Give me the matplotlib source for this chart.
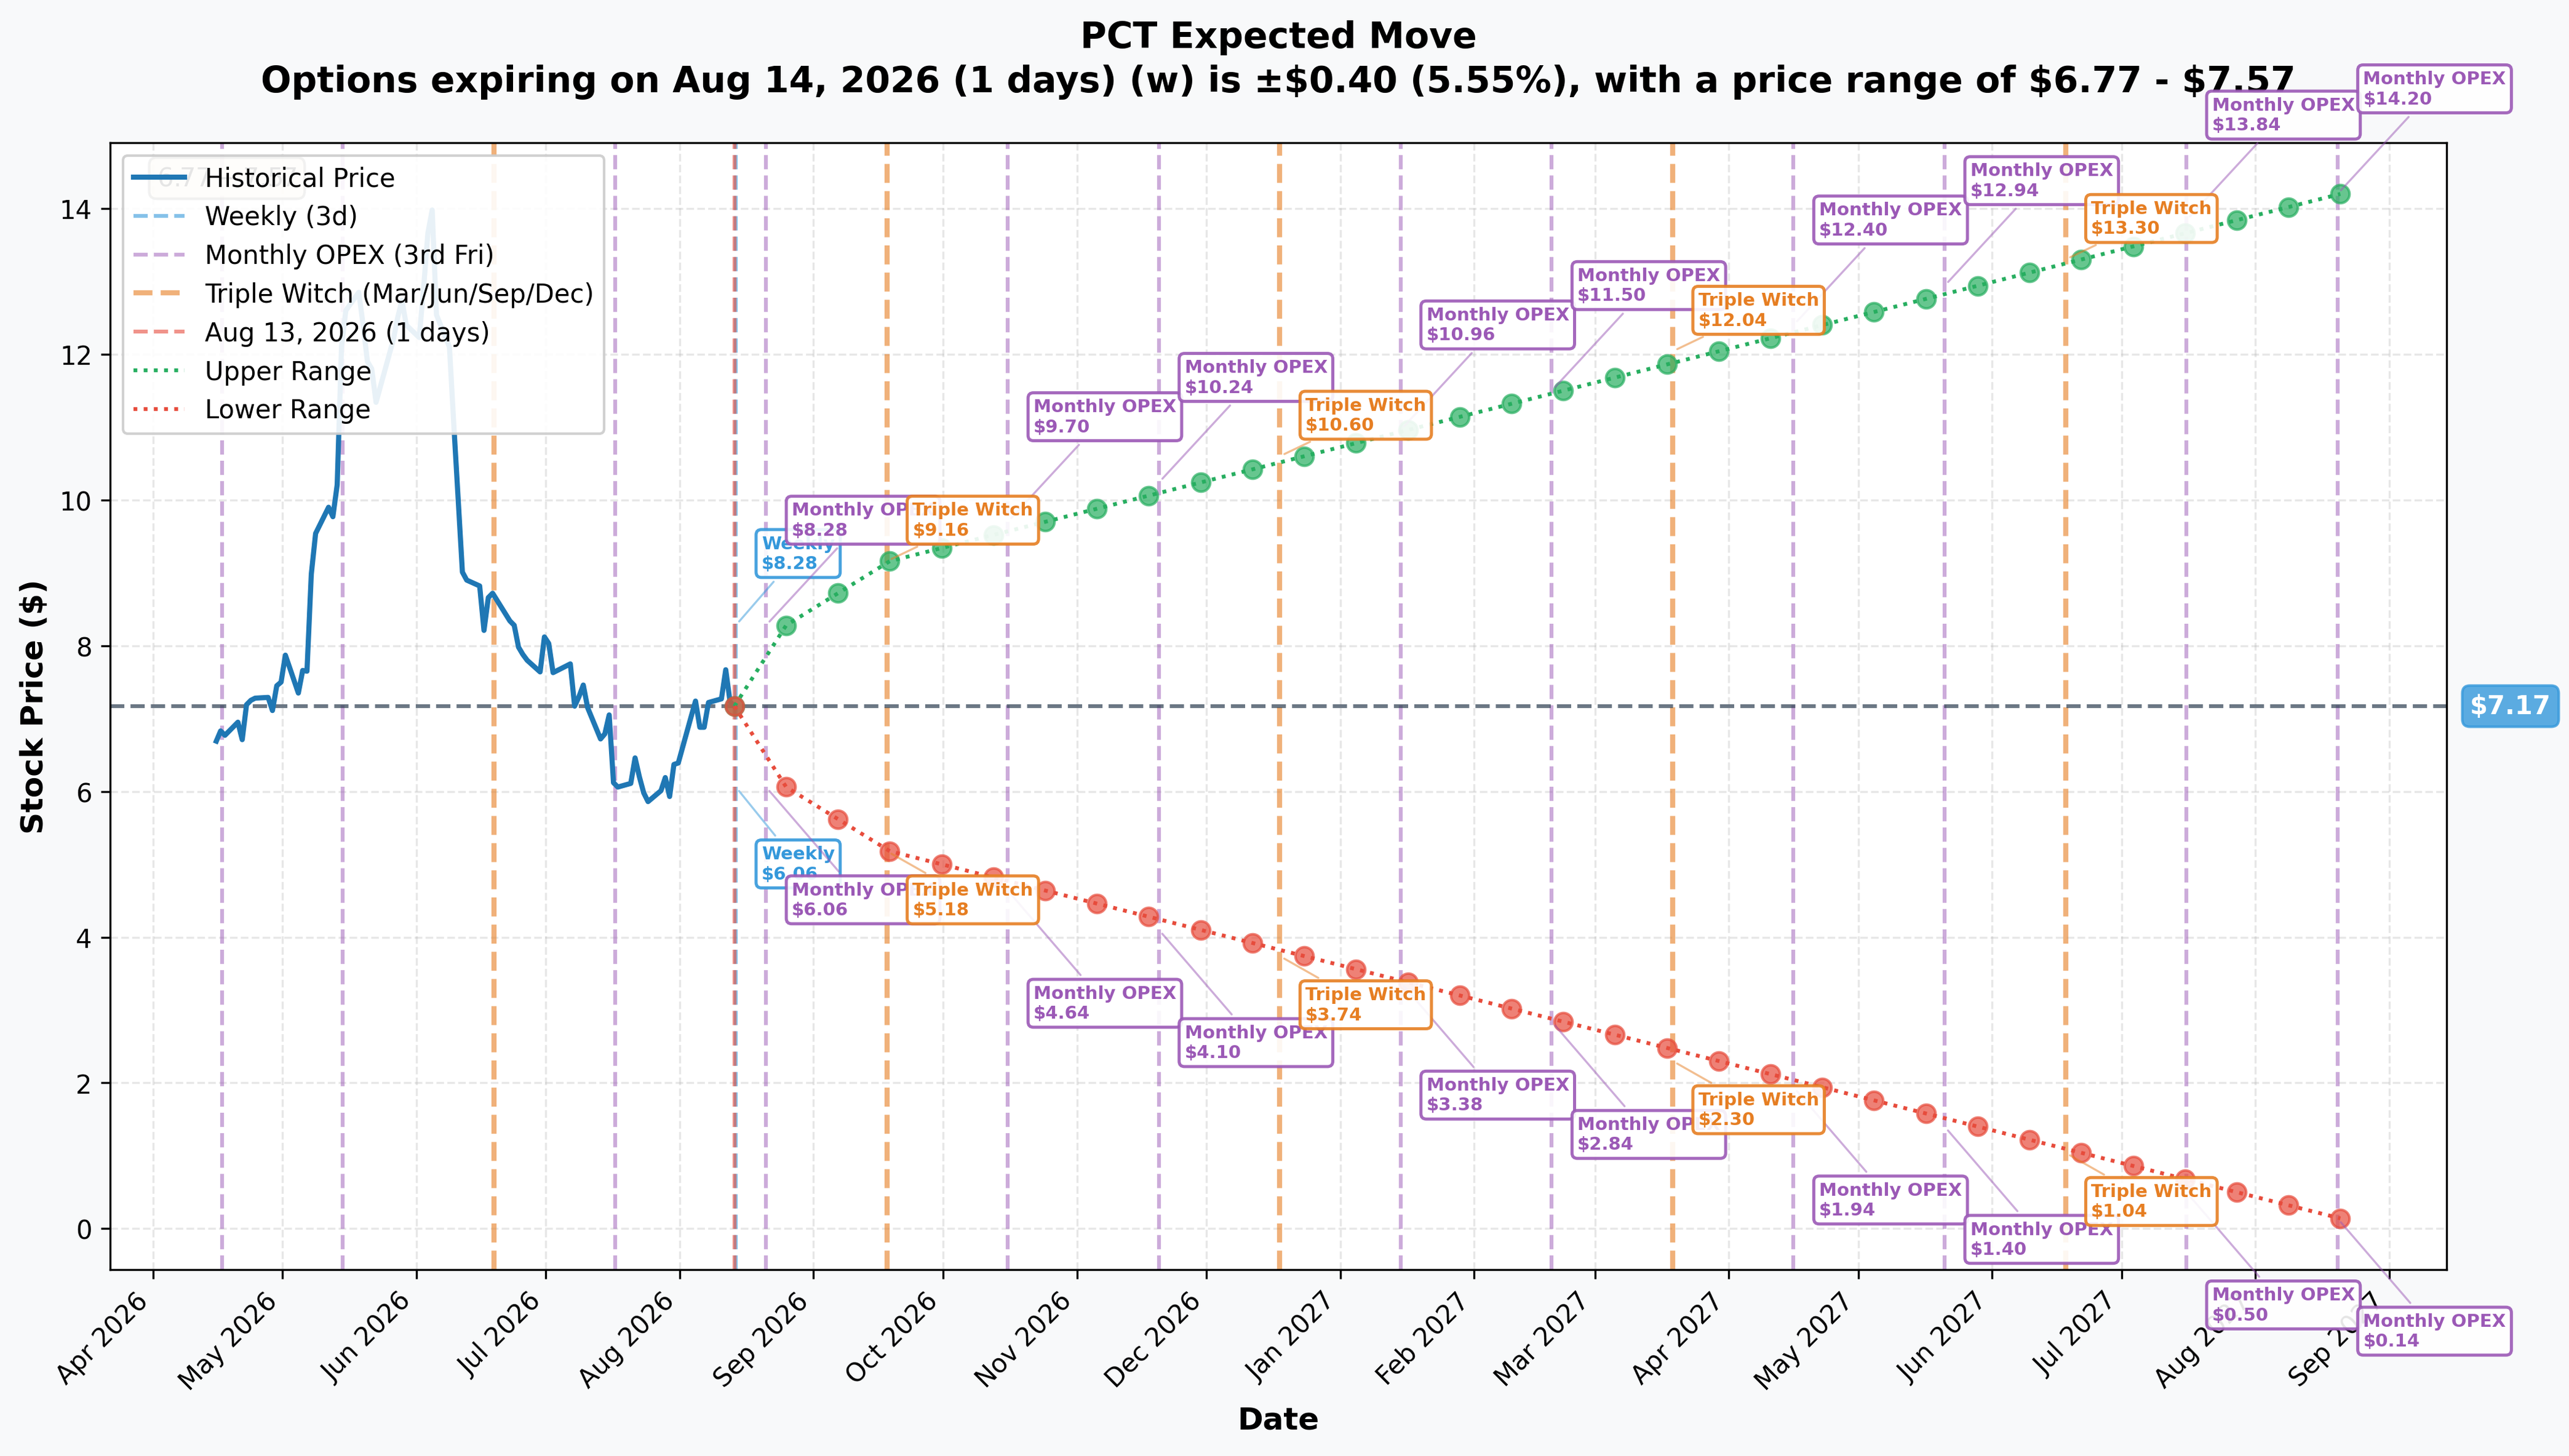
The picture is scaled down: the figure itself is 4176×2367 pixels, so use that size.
import matplotlib.pyplot as plt
import matplotlib.dates as mdates
import pandas as pd

# historical closes (stamped at the close)
hist_dates = ["2026-04-15", "2026-04-16", "2026-04-17", "2026-04-20", "2026-04-21", "2026-04-22",
              "2026-04-23", "2026-04-24", "2026-04-27", "2026-04-28", "2026-04-29", "2026-04-30",
              "2026-05-01", "2026-05-04", "2026-05-05", "2026-05-06", "2026-05-07", "2026-05-08",
              "2026-05-11", "2026-05-12", "2026-05-13", "2026-05-14", "2026-05-15", "2026-05-18",
              "2026-05-19", "2026-05-20", "2026-05-21", "2026-05-22", "2026-05-26", "2026-05-27",
              "2026-05-28", "2026-05-29", "2026-06-01", "2026-06-02", "2026-06-03", "2026-06-04",
              "2026-06-05", "2026-06-08", "2026-06-09", "2026-06-10", "2026-06-11", "2026-06-12",
              "2026-06-15", "2026-06-16", "2026-06-17", "2026-06-18", "2026-06-22", "2026-06-23",
              "2026-06-24", "2026-06-25", "2026-06-26", "2026-06-29", "2026-06-30", "2026-07-01",
              "2026-07-02", "2026-07-06", "2026-07-07", "2026-07-08", "2026-07-09", "2026-07-10",
              "2026-07-13", "2026-07-14", "2026-07-15", "2026-07-16", "2026-07-17", "2026-07-20",
              "2026-07-21", "2026-07-22", "2026-07-23", "2026-07-24", "2026-07-27", "2026-07-28",
              "2026-07-29", "2026-07-30", "2026-07-31", "2026-08-03", "2026-08-04", "2026-08-05",
              "2026-08-06", "2026-08-07", "2026-08-10", "2026-08-11", "2026-08-12", "2026-08-13"]
hist_prices = [6.69, 6.83, 6.77, 6.95, 6.71, 7.19,
               7.25, 7.28, 7.29, 7.11, 7.45, 7.50,
               7.87, 7.35, 7.66, 7.65, 8.98, 9.54,
               9.90, 9.77, 10.21, 12.10, 12.60, 12.85,
               12.40, 11.90, 11.80, 11.34, 12.20, 12.50,
               12.74, 12.40, 12.23, 12.90, 13.66, 13.98,
               12.54, 12.10, 11.04, 10.03, 9.01, 8.90,
               8.82, 8.21, 8.66, 8.72, 8.34, 8.28,
               7.98, 7.88, 7.80, 7.64, 8.12, 8.03,
               7.63, 7.75, 7.17, 7.30, 7.46, 7.15,
               6.72, 6.79, 7.05, 6.12, 6.06, 6.11,
               6.46, 6.20, 5.98, 5.86, 6.01, 6.19,
               5.93, 6.37, 6.39, 7.03, 7.24, 6.88,
               6.88, 7.22, 7.27, 7.67, 7.23, 7.17]
close_time = pd.Timedelta(hours=16)

current_price = 7.17
current_date = pd.Timestamp("2026-08-13") + close_time
weekly_date = "2026-08-14"

# expected range path
range_dates = pd.date_range(current_date, periods=32, freq="12D")
upper_range = [7.17, 8.28, 8.72, 9.16, 9.34, 9.52, 9.70, 9.88, 10.06, 10.24, 10.42, 10.60,
               10.78, 10.96, 11.14, 11.32, 11.50, 11.68, 11.86, 12.04, 12.22, 12.40, 12.58,
               12.76, 12.94, 13.12, 13.30, 13.48, 13.66, 13.84, 14.02, 14.20]
lower_range = [7.17, 6.06, 5.62, 5.18, 5.00, 4.82, 4.64, 4.46, 4.28, 4.10, 3.92, 3.74,
               3.56, 3.38, 3.20, 3.02, 2.84, 2.66, 2.48, 2.30, 2.12, 1.94, 1.76,
               1.58, 1.40, 1.22, 1.04, 0.86, 0.68, 0.50, 0.32, 0.14]

# expiration events
monthly_dates = ["2026-04-17", "2026-05-15", "2026-07-17", "2026-08-21", "2026-10-16", "2026-11-20",
                 "2027-01-15", "2027-02-19", "2027-04-16", "2027-05-21", "2027-07-16", "2027-08-20"]
triple_dates = ["2026-06-19", "2026-09-18", "2026-12-18", "2027-03-19", "2027-06-18"]

weekly_upper = 8.28
weekly_lower = 6.06
monthly_ann_dates = ["2026-08-21", "2026-10-16", "2026-11-20", "2027-01-15", "2027-02-19",
                     "2027-04-16", "2027-05-21", "2027-07-16", "2027-08-20"]
monthly_upper = [8.28, 9.70, 10.24, 10.96, 11.50, 12.40, 12.94, 13.84, 14.20]
monthly_lower = [6.06, 4.64, 4.10, 3.38, 2.84, 1.94, 1.40, 0.50, 0.14]
triple_ann_dates = ["2026-09-18", "2026-12-18", "2027-03-19", "2027-06-18"]
triple_upper = [9.16, 10.60, 12.04, 13.30]
triple_lower = [5.18, 3.74, 2.30, 1.04]

W_COL = '#3498db'
M_COL = '#9b59b6'
T_COL = '#e67e22'
UP_COL = '#27ae60'
LO_COL = '#e74c3c'

fig = plt.figure(figsize=(13.92, 7.8933), facecolor='#f8f9fa')
ax = fig.add_subplot(111)
fig.subplots_adjust(left=179/4176, right=3977/4176, top=1-233/2368, bottom=1-2065/2368)
ax.set_facecolor('white')

hd = pd.to_datetime(hist_dates) + close_time
ax.plot(hd, hist_prices, color='#1f77b4', linewidth=2, label='Historical Price', zorder=3)

ax.axvline(pd.Timestamp(weekly_date), color=W_COL, linestyle='--', linewidth=1.5, alpha=0.6,
           label='Weekly (3d)')
for i, d in enumerate(monthly_dates):
    ax.axvline(pd.Timestamp(d), color=M_COL, linestyle='--', linewidth=1.5, alpha=0.5,
               label='Monthly OPEX (3rd Fri)' if i == 0 else None)
for i, d in enumerate(triple_dates):
    ax.axvline(pd.Timestamp(d), color=T_COL, linestyle='--', linewidth=2, alpha=0.6,
               label='Triple Witch (Mar/Jun/Sep/Dec)' if i == 0 else None)
ax.axvline(current_date, color=LO_COL, linestyle='--', linewidth=1.5, alpha=0.6,
           label='Aug 13, 2026 (1 days)')

ax.axhline(current_price, color='#2c3e50', linestyle='--', linewidth=1.5, alpha=0.7, zorder=2.5)

ax.scatter(range_dates, upper_range, s=50, color=UP_COL, alpha=0.7, zorder=4)
ax.scatter(range_dates, lower_range, s=50, color=LO_COL, alpha=0.7, zorder=4)
ax.plot(range_dates, upper_range, linestyle=':', color=UP_COL, linewidth=1.5, label='Upper Range', zorder=5)
ax.plot(range_dates, lower_range, linestyle=':', color=LO_COL, linewidth=1.5, label='Lower Range', zorder=5)


def tag(day, val, name, col, dy):
    ax.annotate(f'{name}\n${val:.2f}', xy=(pd.Timestamp(day), val), xytext=(10, dy),
                textcoords='offset points', fontsize=7, fontweight='bold', color=col,
                ha='left', va='center', annotation_clip=False, zorder=6,
                bbox=dict(boxstyle='round,pad=0.3', facecolor='white', edgecolor=col,
                          alpha=0.9, linewidth=1.2),
                arrowprops=dict(arrowstyle='-', color=col, alpha=0.5, lw=0.8))


tag(weekly_date, weekly_upper, 'Weekly', W_COL, 28)
tag(weekly_date, weekly_lower, 'Weekly', W_COL, -30)
for d, u, l in zip(monthly_ann_dates, monthly_upper, monthly_lower):
    tag(d, u, 'Monthly OPEX', M_COL, 41)
    tag(d, l, 'Monthly OPEX', M_COL, -44)
for d, u, l in zip(triple_ann_dates, triple_upper, triple_lower):
    tag(d, u, 'Triple Witch', T_COL, 16)
    tag(d, l, 'Triple Witch', T_COL, -19)

# range box in the corner (sits under the legend)
ax.text(0.02, 0.98, '$6.77 - $7.57', transform=ax.transAxes, fontsize=10, va='top',
        bbox=dict(boxstyle='round', facecolor='wheat', alpha=0.5))

ax.text(1.01, current_price, f'${current_price:.2f}', transform=ax.get_yaxis_transform(),
        fontsize=10, fontweight='bold', color='white', ha='left', va='center',
        bbox=dict(boxstyle='round,pad=0.3', facecolor=W_COL, edgecolor=W_COL, alpha=0.8))

ax.set_title('PCT Expected Move\nOptions expiring on Aug 14, 2026 (1 days) (w) is ±$0.40 (5.55%), '
             'with a price range of $6.77 - $7.57', fontsize=14, fontweight='bold', pad=20,
             linespacing=1.32)
ax.set_xlabel('Date', fontsize=12, fontweight='bold')
ax.set_ylabel('Stock Price ($)', fontsize=12, fontweight='bold')
ax.grid(True, alpha=0.3, linestyle='--')
ax.xaxis.set_major_locator(mdates.MonthLocator())
ax.xaxis.set_major_formatter(mdates.DateFormatter('%b %Y'))
plt.setp(ax.get_xticklabels(), rotation=45, ha='right')
ax.legend(loc='upper left', fontsize=10, framealpha=0.9)

fig.savefig('out.png', dpi=300, facecolor=fig.get_facecolor())
